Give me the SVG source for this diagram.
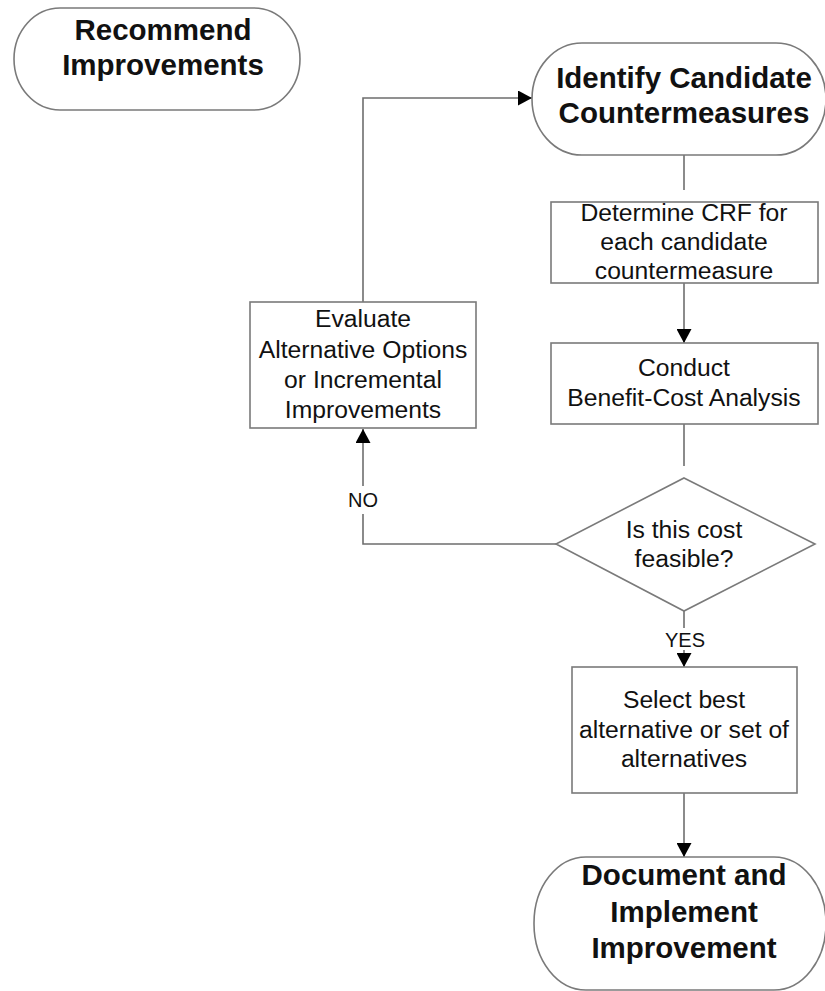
<svg xmlns="http://www.w3.org/2000/svg" width="825" height="991" viewBox="0 0 825 991">
  <style>
    .term { fill: #fff; stroke: #7a7a7a; stroke-width: 1.6; }
    .box { fill: #fff; stroke: #7a7a7a; stroke-width: 1.6; }
    .dec { fill: #fff; stroke: #7a7a7a; stroke-width: 1.6; }
    .conn { fill: none; stroke: #6e6e6e; stroke-width: 1.6; }
    text { font-family: "Liberation Sans", Arial, sans-serif; fill: #111; text-anchor: middle; }
    .t { font-size: 24.7px; }
    .tb { font-size: 29.5px; font-weight: bold; }
    .lbl { font-size: 20px; }
  </style>
  <defs>
    <marker id="arrow" viewBox="0 0 14 15" refX="14" refY="7.5" markerWidth="14" markerHeight="15" markerUnits="userSpaceOnUse" orient="auto">
      <path d="M0,0 L14,7.5 L0,15 Z" fill="#000"/>
    </marker>
  </defs>

  <rect width="825" height="991" fill="#fff"/>

  <!-- connectors -->
  <g id="connectors">
    <line class="conn" x1="684" y1="155" x2="684" y2="190"/>
    <line class="conn" x1="684" y1="283" x2="684" y2="343" marker-end="url(#arrow)"/>
    <line class="conn" x1="684" y1="424" x2="684" y2="466"/>
    <line class="conn" x1="684" y1="611" x2="684" y2="628"/>
    <line class="conn" x1="684" y1="650" x2="684" y2="667" marker-end="url(#arrow)"/>
    <polyline class="conn" points="556,544 363,544 363,514"/>
    <line class="conn" x1="363" y1="486" x2="363" y2="429" marker-end="url(#arrow)"/>
    <polyline class="conn" points="363,302 363,98 532,98" marker-end="url(#arrow)"/>
    <line class="conn" x1="684" y1="793" x2="684" y2="857" marker-end="url(#arrow)"/>
    <text class="lbl" x="363" y="507">NO</text>
    <text class="lbl" x="685" y="647">YES</text>
  </g>

  <g id="recommend">
    <rect class="term" x="14" y="8" width="286" height="102" rx="46" ry="51"/>
    <text class="tb" x="163" y="40">Recommend</text>
    <text class="tb" x="163" y="75">Improvements</text>
  </g>

  <g id="identify">
    <rect class="term" x="532" y="43" width="294" height="112" rx="50" ry="56"/>
    <text class="tb" x="684" y="88">Identify Candidate</text>
    <text class="tb" x="684" y="123">Countermeasures</text>
  </g>

  <g id="determine">
    <rect class="box" x="551" y="202" width="267" height="81"/>
    <text class="t" x="684" y="221">Determine CRF for</text>
    <text class="t" x="684" y="250">each candidate</text>
    <text class="t" x="684" y="279">countermeasure</text>
  </g>

  <g id="conduct">
    <rect class="box" x="551" y="343" width="267" height="81"/>
    <text class="t" x="684" y="376">Conduct</text>
    <text class="t" x="684" y="406">Benefit-Cost Analysis</text>
  </g>

  <g id="feasible">
    <polygon class="dec" points="684,478 815,544 684,611 556,544"/>
    <text class="t" x="684" y="538">Is this cost</text>
    <text class="t" x="684" y="567">feasible?</text>
  </g>

  <g id="evaluate">
    <rect class="box" x="250" y="302" width="226" height="126"/>
    <text class="t" x="363" y="327">Evaluate</text>
    <text class="t" x="363" y="358">Alternative Options</text>
    <text class="t" x="363" y="388">or Incremental</text>
    <text class="t" x="363" y="418">Improvements</text>
  </g>

  <g id="select">
    <rect class="box" x="572" y="667" width="225" height="126"/>
    <text class="t" x="684" y="708">Select best</text>
    <text class="t" x="684" y="738">alternative or set of</text>
    <text class="t" x="684" y="767">alternatives</text>
  </g>

  <g id="document">
    <rect class="term" x="534" y="857" width="292" height="133" rx="52" ry="66"/>
    <text class="tb" x="684" y="885">Document and</text>
    <text class="tb" x="684" y="922">Implement</text>
    <text class="tb" x="684" y="958">Improvement</text>
  </g>
</svg>
